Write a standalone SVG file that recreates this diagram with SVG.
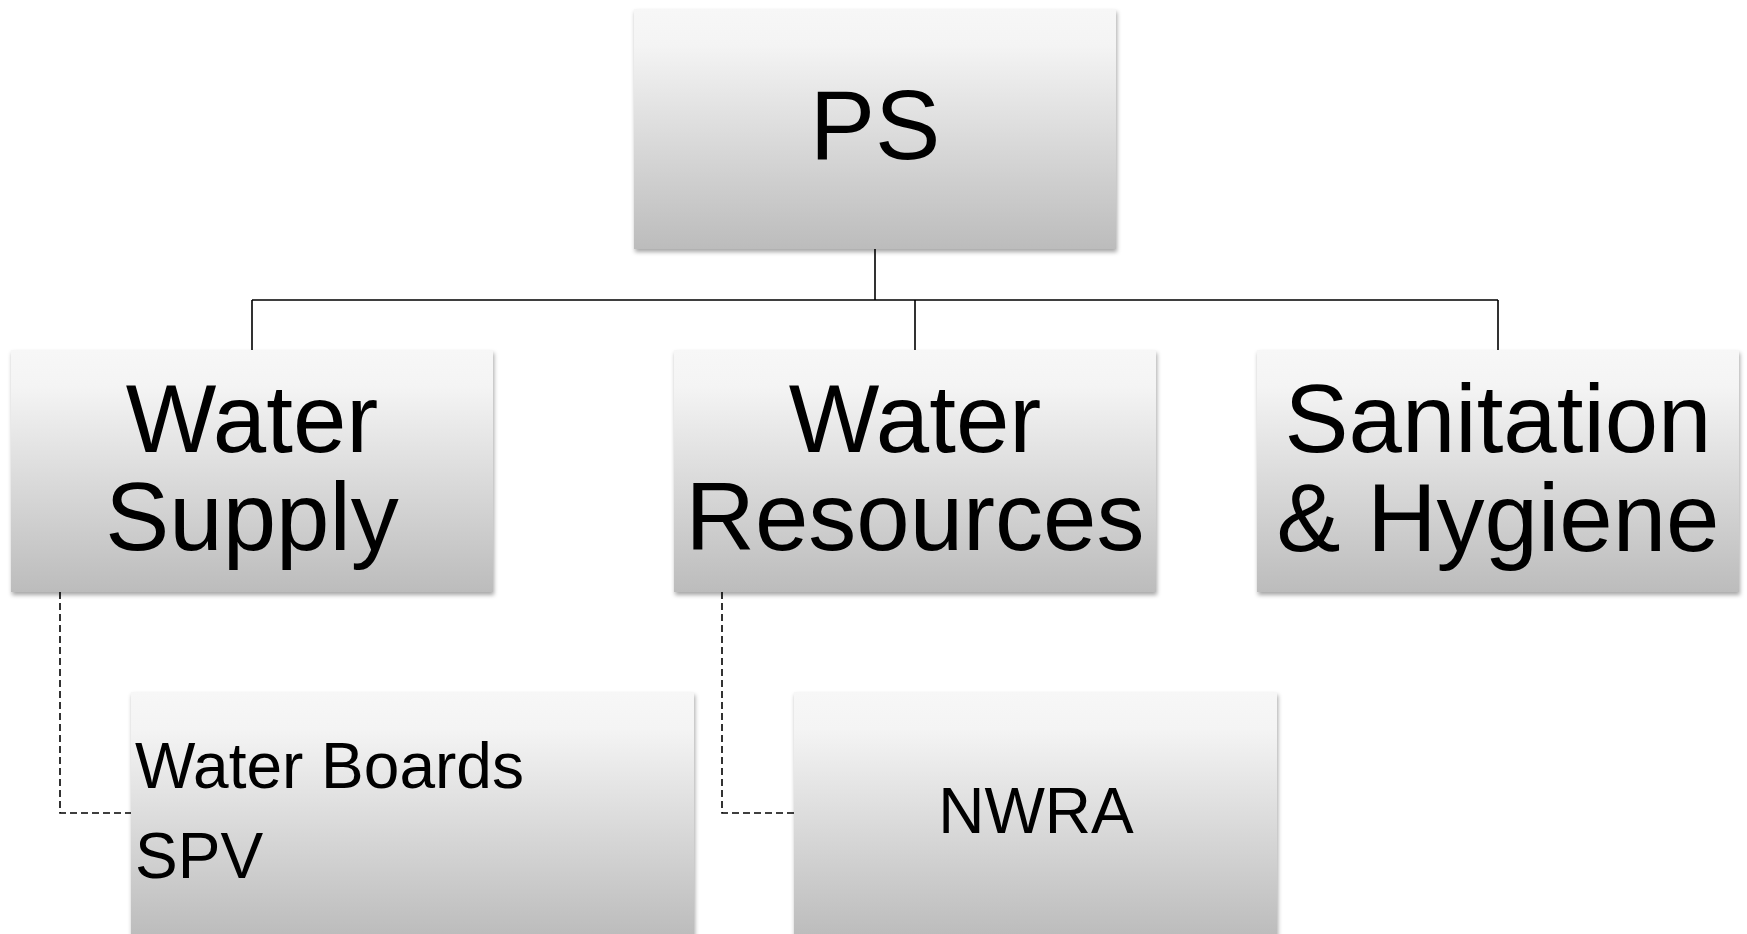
<svg xmlns="http://www.w3.org/2000/svg" width="1747" height="934" viewBox="0 0 1747 934">
<defs>
<linearGradient id="g" x1="0" y1="0" x2="0" y2="1">
<stop offset="0" stop-color="#f7f7f7"/>
<stop offset="0.15" stop-color="#f4f4f4"/>
<stop offset="1" stop-color="#bcbcbc"/>
</linearGradient>
<filter id="sh" x="-5%" y="-5%" width="110%" height="115%">
<feDropShadow dx="1" dy="3" stdDeviation="2" flood-color="#000" flood-opacity="0.35"/>
</filter>
</defs>
<style>
.box{fill:url(#g);filter:url(#sh);}
.t{font-family:"Liberation Sans",Arial,sans-serif;fill:#000;}
.big{font-size:96px;text-anchor:middle;}
.ps{font-size:98px;text-anchor:middle;}
.sm{font-size:64px;}
.solid{stroke:#000;stroke-width:1.6;fill:none;}
.dash{stroke:#000;stroke-width:1.6;fill:none;stroke-dasharray:7,4;}
</style>
<rect width="1747" height="934" fill="#fff"/>
<g id="connectors">
<path class="solid" d="M875 249 V300 M252 300 H1498 M252 300 V350 M915 300 V350 M1498 300 V350"/>
<path class="dash" d="M60 592 V813 H131"/>
<path class="dash" d="M722 592 V813 H794"/>
</g>
<g id="ps">
<rect class="box" x="634" y="9" width="482" height="240"/>
<text class="t ps" x="875" y="159">PS</text>
</g>
<g id="water-supply">
<rect class="box" x="11" y="350" width="482" height="242"/>
<text class="t big" x="252" y="452">Water</text>
<text class="t big" x="252" y="550">Supply</text>
</g>
<g id="water-resources">
<rect class="box" x="674" y="350" width="482" height="242"/>
<text class="t big" x="915" y="452">Water</text>
<text class="t big" x="915" y="550">Resources</text>
</g>
<g id="sanitation">
<rect class="box" x="1257" y="350" width="482" height="242"/>
<text class="t big" x="1498" y="452">Sanitation</text>
<text class="t big" x="1498" y="551">&amp; Hygiene</text>
</g>
<g id="water-boards">
<rect class="box" x="131" y="692" width="563" height="244"/>
<text class="t sm" x="135" y="788">Water Boards</text>
<text class="t sm" x="135" y="878">SPV</text>
</g>
<g id="nwra">
<rect class="box" x="794" y="692" width="483" height="244"/>
<text class="t sm" x="1036" y="833" text-anchor="middle">NWRA</text>
</g>
</svg>
